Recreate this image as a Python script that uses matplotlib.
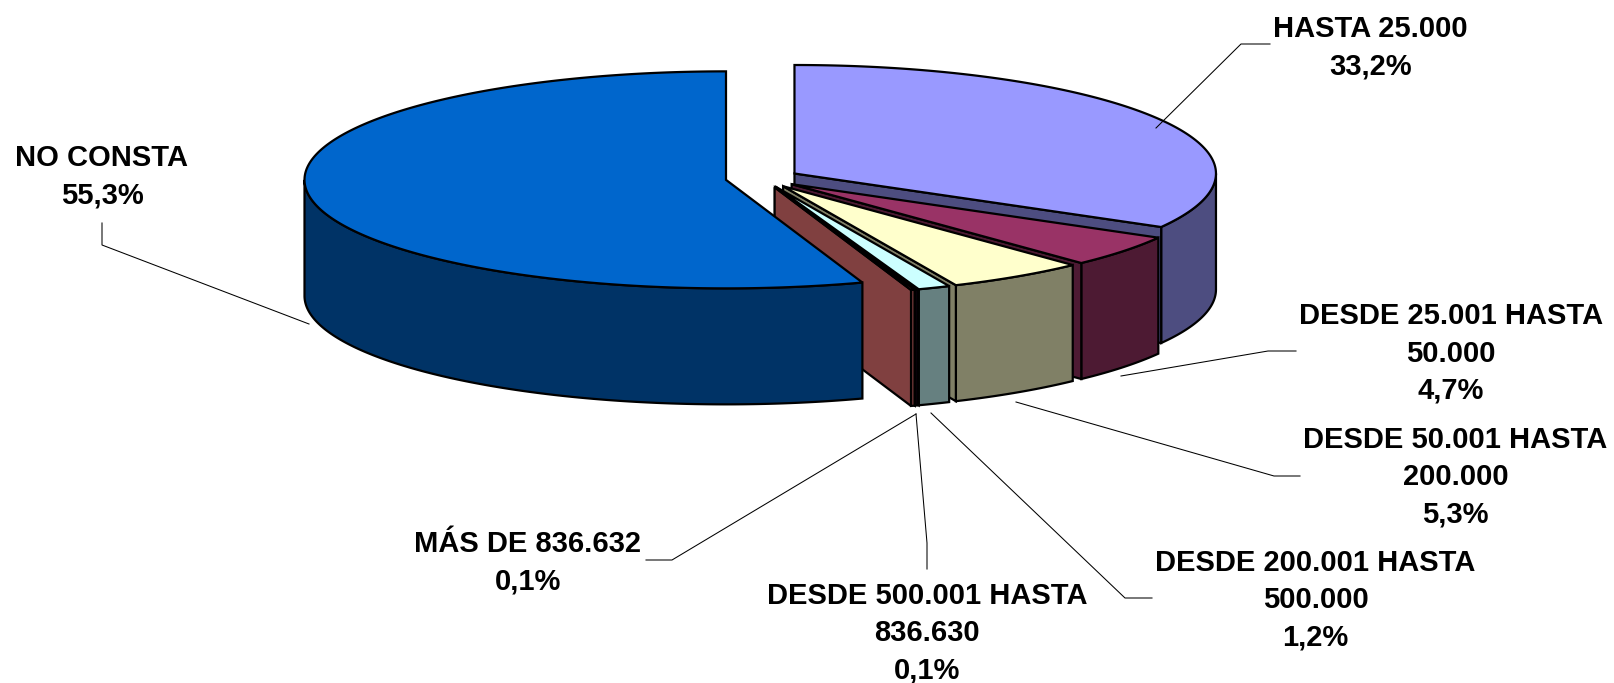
import numpy as np
import matplotlib
matplotlib.use("Agg")
import matplotlib.pyplot as plt
from matplotlib.patches import Polygon

# ---- data ----
categories = ["HASTA 25.000", "DESDE 25.001 HASTA\n50.000", "DESDE 50.001 HASTA\n200.000",
              "DESDE 200.001 HASTA\n500.000", "DESDE 500.001 HASTA\n836.630", "MÁS DE 836.632", "NO CONSTA"]
shares = [33.24, 4.74, 5.34, 1.24, 0.1, 0.14, 55.3]
top_colors = ["#9999FF", "#993366", "#FFFFCC", "#CCFFFF", "#660066", "#FF8080", "#0066CC"]

# ---- layout (pixels of the 1615x683 canvas) ----
W, H = 1615, 683
CX, CY = 762.5, 178.3     # pie centre before explosion
RX, RY = 421.5, 108.5     # top ellipse radii
DEPTH = 116.0             # extrusion
EXPLODE = 37.0            # explosion along the mid angle (in radius units)
EDGE = 1.6
FONT = 21.0
label_pos = [(1370.5, 47.5), (1451, 353.5), (1455.5, 477), (1315.5, 600), (927, 633), (528, 563), (102, 177)]
leaders = [
    [(1156, 128), (1241, 44), (1270, 44)],
    [(1121, 376), (1268, 351), (1296, 351)],
    [(1016, 402), (1274, 476), (1300, 476)],
    [(931, 413), (1125, 598), (1152, 598)],
    [(916, 414), (927, 543), (927, 569)],
    [(916, 414), (672, 560), (646, 560)],
    [(309, 324), (102, 245), (102, 223)],
]

plt.rcParams['font.family'] = ['Liberation Sans', 'DejaVu Sans']
fig = plt.figure(figsize=(W / 100, H / 100), dpi=100)
ax = fig.add_axes([0, 0, 1, 1])
ax.set_xlim(0, W)
ax.set_ylim(H, 0)
ax.axis("off")


def rim(cx, cy, t):
    return np.column_stack([cx + RX * np.sin(t), cy - RY * np.cos(t)])


def darken(c):
    r, g, b = matplotlib.colors.to_rgb(c)
    return (r / 2, g / 2, b / 2)


def poly(pts, fc, z):
    ax.add_patch(Polygon(pts, closed=True, facecolor=fc, edgecolor="black",
                         linewidth=EDGE, joinstyle="miter", zorder=z))


fractions = np.array(shares) / np.sum(shares)
ends = np.cumsum(fractions) * 2 * np.pi
starts = ends - fractions * 2 * np.pi

for i, (a, b, col) in enumerate(zip(starts, ends, top_colors)):
    z = i + 1
    mid = (a + b) / 2
    cx = CX + EXPLODE * np.sin(mid)
    cy = CY - EXPLODE * (RY / RX) * np.cos(mid)
    apex = np.array([cx, cy])
    side = darken(col)
    down = np.array([0, DEPTH])

    # outer wall: only the part facing the viewer
    lo, hi = max(a, np.pi / 2), min(b, 3 * np.pi / 2)
    if hi > lo:
        t = np.linspace(lo, hi, max(3, int(np.degrees(hi - lo) * 2)))
        upper = rim(cx, cy, t)
        poly(np.vstack([upper, (upper + down)[::-1]]), side, z)

    # cut face at the clockwise end, if it looks at the viewer
    if np.sin(b) > 1e-6:
        p = rim(cx, cy, np.array([b]))[0]
        poly(np.array([apex, p, p + down, apex + down]), side, z)

    # top face
    t = np.linspace(a, b, max(3, int(np.degrees(b - a) * 2)))
    poly(np.vstack([apex, rim(cx, cy, t)]), col, z)

for path in leaders:
    xs, ys = zip(*path)
    ax.plot(xs, ys, color="black", lw=0.75, solid_joinstyle="miter", zorder=20)

for name, share, (x, y) in zip(categories, shares, label_pos):
    pct = f"{share:.1f}".replace(".", ",") + "%"
    ax.text(x, y, f"{name}\n{pct}", ha="center", va="center", fontsize=FONT,
            fontweight="bold", color="black", linespacing=1.41, zorder=30)

fig.savefig("out.png", dpi=100, facecolor="white")
